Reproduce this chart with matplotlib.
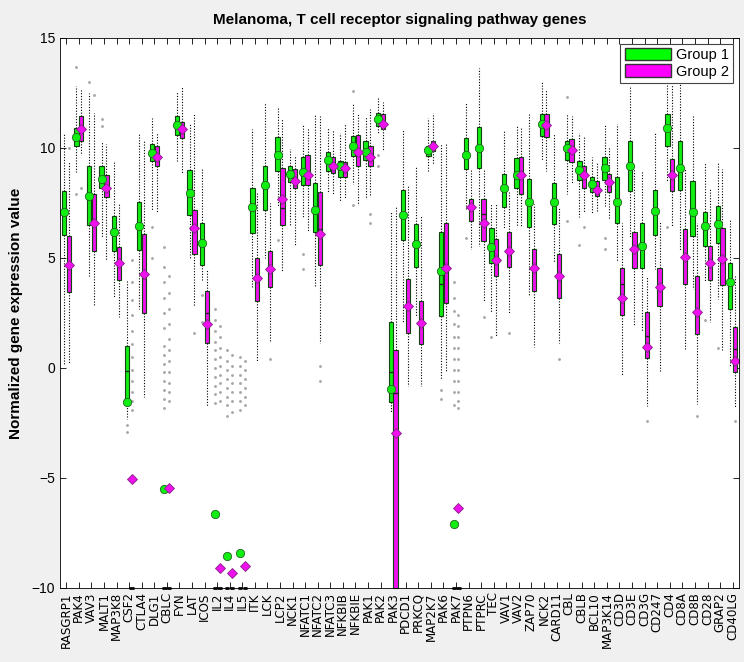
import numpy as np
import matplotlib
matplotlib.use("Agg")
import matplotlib.pyplot as plt
from matplotlib.patches import Patch

# gene names along the x axis
genes = ["RASGRP1", "PAK4", "VAV3", "MALT1", "MAP3K8", "CSF2", "CTLA4", "DLG1",
         "CBLC", "FYN", "LAT", "ICOS", "IL2", "IL4", "IL5", "ITK", "LCK", "LCP2",
         "NCK1", "NFATC1", "NFATC2", "NFATC3", "NFKBIB", "NFKBIE", "PAK1", "PAK2",
         "PAK3", "PDCD1", "PRKCQ", "MAP2K7", "PAK6", "PAK7", "PTPN6", "PTPRC",
         "TEC", "VAV1", "VAV2", "ZAP70", "NCK2", "CARD11", "CBL", "CBLB", "BCL10",
         "MAP3K14", "CD3D", "CD3E", "CD3G", "CD247", "CD4", "CD8A", "CD8B", "CD28",
         "GRAP2", "CD40LG"]

# Group 1 box statistics: whisker low, q1, median, q3, whisker high, mean
g1_lo = [0.2, 8.9, 4.2, 5.9, 3.2, -2.3, 2.7, 7.2, -10, 9.4, 4.95, 4.0, -10, -10, -10,
         3.7, 5.0, 7.35, 6.45, 6.8, 3.7, 7.95, 7.55, 8.35, 7.7, 10.7, -2.0, 2.1, 2.35,
         8.9, -0.5, -10, 7.2, 5.55, 2.5, 6.3, 6.4, 3.3, 9.4, 4.8, 7.9, 6.85, 7.0, 7.35,
         4.8, 5.95, 1.7, 4.5, 8.5, 5.3, 3.6, 3.95, 3.15, 0.05]
g1_q1 = [6.05, 10.1, 6.5, 8.2, 5.3, -1.55, 5.35, 9.4, -10, 10.6, 6.95, 4.7, -10, -10, -10,
         6.15, 7.2, 8.95, 8.45, 8.3, 6.2, 8.95, 8.7, 9.65, 9.45, 11.0, -1.55, 5.8, 4.6,
         9.65, 2.35, -10, 9.05, 9.1, 4.75, 7.3, 8.2, 6.4, 10.55, 6.55, 9.45, 8.55, 8.0, 8.55,
         6.6, 8.05, 4.55, 6.05, 10.1, 8.1, 6.0, 5.55, 5.7, 2.7]
g1_med = [7.1, 10.5, 7.8, 8.6, 6.2, -0.15, 6.45, 9.75, -10, 11.05, 7.95, 5.7, -10, -10, -10,
          7.3, 8.3, 9.7, 8.8, 8.9, 7.2, 9.45, 9.2, 10.1, 9.8, 11.3, -0.2, 6.95, 5.65,
          9.9, 3.8, -10, 9.7, 10.0, 5.5, 8.2, 8.75, 7.55, 11.1, 7.55, 10.0, 9.0, 8.35, 9.1,
          7.55, 9.2, 5.55, 7.15, 10.9, 9.1, 7.1, 6.45, 6.55, 3.9]
g1_q3 = [8.05, 10.9, 9.2, 9.2, 6.9, 1.0, 7.55, 10.2, -10, 11.45, 9.0, 6.6, -10, -10, -10,
         8.2, 9.2, 10.5, 9.2, 9.6, 8.4, 9.8, 9.4, 10.55, 10.3, 11.6, 2.1, 8.1, 6.55,
         10.1, 6.2, -10, 10.45, 10.95, 6.35, 8.8, 9.55, 8.6, 11.55, 8.4, 10.3, 9.4, 8.7, 9.6,
         8.7, 10.3, 6.6, 8.1, 11.55, 10.3, 8.5, 7.1, 7.35, 4.75]
g1_hi = [10.7, 12.8, 12.5, 10.3, 9.35, 4.0, 10.65, 11.35, -10, 12.55, 11.1, 9.05, -10, -10, -10,
         10.85, 12.1, 11.85, 9.95, 11.1, 11.55, 10.95, 10.7, 12.0, 11.45, 12.3, 7.15, 10.85, 9.2,
         11.35, 10.2, -10, 12.1, 13.65, 7.5, 10.8, 11.0, 11.6, 13.0, 10.7, 11.55, 10.7, 9.6, 11.1,
         11.1, 12.75, 8.95, 10.7, 13.45, 12.9, 11.45, 9.35, 9.35, 6.75]
g1_mean = [7.1, 10.5, 7.8, 8.6, 6.2, -1.55, 6.45, 9.75, -5.5, 11.05, 7.95, 5.7, -6.65, -8.55, -8.4,
           7.3, 8.3, 9.7, 8.8, 8.9, 7.2, 9.45, 9.2, 10.1, 9.8, 11.3, -0.95, 6.95, 5.65,
           9.9, 4.4, -7.1, 9.7, 10.0, 5.5, 8.2, 8.75, 7.55, 11.1, 7.55, 10.0, 9.0, 8.35, 9.1,
           7.55, 9.2, 5.55, 7.15, 10.9, 9.1, 7.1, 6.45, 6.55, 3.9]

# Group 2 box statistics
g2_lo = [0.2, 9.7, 2.8, 4.9, 2.3, -10, -1.3, 7.1, -10, 8.8, 2.8, -1.75, -10, -10, -10,
         0.3, 1.2, 4.35, 5.6, 6.2, 1.15, 7.85, 7.7, 7.4, 7.8, 9.85, -10, -0.8, -0.8,
         9.25, -0.2, -10, 5.4, 3.0, 1.45, 2.45, 6.45, 0.95, 8.95, 1.15, 8.4, 7.1, 7.15, 6.75,
         -0.3, 1.9, -1.75, -0.15, 6.45, 0.85, -1.65, 2.1, 0.75, -1.8]
g2_q1 = [3.45, 10.3, 5.3, 7.75, 4.0, -10, 2.5, 9.2, -10, 10.45, 5.2, 1.15, -10, -10, -10,
         3.05, 3.7, 6.5, 8.2, 8.3, 4.7, 8.85, 8.7, 9.2, 9.2, 10.85, -10, 1.6, 1.1,
         9.85, 2.95, -10, 6.7, 5.75, 4.2, 4.6, 7.9, 3.5, 10.5, 3.2, 9.35, 8.2, 7.8, 8.0,
         2.4, 4.55, 0.45, 2.8, 8.05, 3.8, 1.55, 4.0, 3.75, -0.2]
g2_med = [4.7, 10.85, 6.6, 8.2, 4.75, -10, 4.1, 9.6, -10, 10.85, 6.35, 2.5, -10, -10, -10,
          4.1, 4.5, 7.25, 8.5, 8.75, 6.3, 9.2, 9.1, 9.8, 9.6, 11.1, -1.15, 2.8, 2.05,
          10.1, 4.55, -10, 7.3, 7.0, 4.9, 5.3, 8.75, 4.55, 11.05, 4.2, 9.9, 8.75, 8.1, 8.45,
          3.8, 5.4, 1.45, 3.7, 8.75, 5.05, 2.55, 4.75, 4.95, 0.85]
g2_q3 = [6.0, 11.45, 7.9, 8.75, 5.5, -10, 6.1, 10.1, -10, 11.2, 7.2, 3.5, -10, -10, -10,
         5.0, 5.3, 9.1, 9.05, 9.7, 8.0, 9.6, 9.35, 10.6, 10.1, 11.55, 0.8, 4.05, 3.05,
         10.3, 6.6, -10, 7.7, 7.7, 5.85, 6.2, 9.6, 5.4, 11.55, 5.2, 10.4, 9.2, 8.5, 8.8,
         4.55, 6.2, 2.55, 4.55, 9.5, 6.3, 4.2, 5.55, 6.35, 1.85]
g2_hi = [9.4, 12.7, 11.6, 10.2, 7.5, -10, 10.3, 10.7, -10, 12.75, 11.6, 4.5, -10, -10, -10,
         8.0, 7.5, 11.3, 9.7, 10.9, 11.45, 10.8, 11.1, 11.6, 11.75, 12.1, 7.35, 8.3, 6.9,
         11.6, 10.2, -10, 9.05, 9.05, 7.5, 8.0, 10.95, 7.45, 12.7, 7.3, 11.45, 10.55, 9.35, 10.05,
         6.6, 9.05, 4.2, 6.7, 12.9, 9.05, 6.6, 8.15, 9.05, 4.2]
g2_mean = [4.7, 10.85, 6.6, 8.2, 4.75, -5.05, 4.25, 9.6, -5.45, 10.85, 6.35, 2.0, -9.1, -9.3, -9.0,
           4.1, 4.5, 7.7, 8.5, 8.75, 6.1, 9.2, 9.1, 9.8, 9.6, 11.1, -2.95, 2.8, 2.05,
           10.1, 4.55, -6.35, 7.3, 6.6, 4.9, 5.3, 8.75, 4.55, 11.05, 4.2, 9.9, 8.75, 8.1, 8.45,
           3.2, 5.4, 0.95, 3.7, 8.75, 5.05, 2.55, 4.75, 4.95, 0.3]

# outlying samples (gene -> values)
g1_out = {
    "PAK4": [13.7, 7.9], "VAV3": [13.0], "MALT1": [11.0, 11.3], "CSF2": [-2.6, -2.9],
    "CBLC": [5.5, 4.6, 3.9, 3.2, 2.5, 1.8, 1.0, 0.6, 0.2, -0.2, -0.6, -1.0, -1.4, -1.8],
    "DLG1": [6.4, 5.0], "ICOS": [3.3, 2.1],
    "IL2": [2.7, 2.2, 1.7, 1.2, 0.8, 0.4, 0.0, -0.4, -0.8, -1.2, -1.6],
    "IL4": [0.8, 0.3, -0.1, -0.5, -0.9, -1.3, -1.7, -2.2],
    "IL5": [0.5, 0.1, -0.3, -0.7, -1.1, -1.5, -1.9],
    "LCP2": [5.8], "NFATC1": [5.2, 4.5], "PAK2": [9.7, 9.2], "NFKBIE": [12.6, 7.4],
    "PAK6": [-1.0, -1.4], "PAK7": [3.9, 3.2, 2.6, 2.0, 1.4, 0.9, 0.4, -0.1, -0.6, -1.1, -1.7],
    "PTPN6": [5.9], "TEC": [1.4], "CBL": [6.7, 12.3], "CBLB": [5.6],
    "MAP3K14": [5.9, 5.4], "CD4": [6.4], "CD28": [2.2], "GRAP2": [0.9],
}
g2_out = {
    "RASGRP1": [10.0], "PAK4": [8.2], "VAV3": [12.4],
    "CSF2": [4.9, 3.9, 3.1, 2.4, 1.7, 1.1, 0.5, -0.1, -0.6, -1.1, -1.5, -1.9],
    "CBLC": [4.2, 3.4, 2.7, 2.0, 1.3, 0.8, 0.3, -0.2, -0.7, -1.1, -1.5],
    "IL2": [1.9, 1.4, 0.9, 0.5, 0.1, -0.3, -0.7, -1.1, -1.5],
    "IL4": [0.6, 0.1, -0.3, -0.7, -1.1, -1.5, -2.0],
    "IL5": [0.3, -0.1, -0.5, -0.9, -1.3, -1.7],
    "LAT": [1.6], "LCK": [0.4], "NFATC2": [0.1, -0.6], "PAK1": [7.0, 6.6],
    "PTPRC": [2.3], "PAK7": [2.4, 1.9, 1.4, 0.9, 0.4, -0.1, -0.6, -1.1, -1.5, -1.8],
    "VAV1": [1.6], "CARD11": [0.4], "CBLB": [6.4], "CD3G": [-2.4], "CD8B": [-2.2],
    "CD40LG": [-2.4],
}

green = "#11ee11"
magenta = "#ee11ee"


def make_stats(lo, q1, med, q3, hi, mean, out):
    stats = []
    for i, g in enumerate(genes):
        stats.append(dict(whislo=lo[i], q1=q1[i], med=med[i], q3=q3[i],
                          whishi=hi[i], mean=mean[i],
                          fliers=np.array(out.get(g, []))))
    return stats


pos = np.arange(1, len(genes) + 1)

fig = plt.figure(figsize=(7.44, 6.62), dpi=100, facecolor="#f0f0f0")
ax = fig.add_axes([0.0806, 0.1118, 0.9126, 0.8308])

groups = [
    (make_stats(g1_lo, g1_q1, g1_med, g1_q3, g1_hi, g1_mean, g1_out), -0.19, green, "o", "#226622"),
    (make_stats(g2_lo, g2_q1, g2_med, g2_q3, g2_hi, g2_mean, g2_out), 0.19, magenta, "D", "#882288"),
]
for stats, off, col, mk, edge in groups:
    parts = ax.bxp(stats, positions=pos + off, widths=0.34, patch_artist=True,
                   showmeans=True, showcaps=False,
                   boxprops=dict(facecolor=col, edgecolor="#114411", linewidth=0.8),
                   medianprops=dict(color="#222222", linewidth=1.0),
                   whiskerprops=dict(color="black", linewidth=0.8, linestyle=(0, (1, 1.5))),
                   flierprops=dict(marker=".", markersize=2.2, markerfacecolor="#aaaaaa",
                                   markeredgecolor="#aaaaaa", linestyle="none"),
                   meanprops=dict(marker=mk, markersize=6 if mk == "o" else 5.5,
                                  markerfacecolor=col, markeredgecolor=edge,
                                  markeredgewidth=0.6))
    # boxes collapsed at the floor (-10) show as short black bars on the axis
    for art in parts["boxes"] + parts["medians"]:
        art.set_clip_on(False)
    for i, b in enumerate(parts["boxes"]):
        if stats[i]["q3"] == stats[i]["q1"]:
            b.set_edgecolor("black")
            b.set_linewidth(2.0)

ax.set_xlim(0.5, len(genes) + 0.5)
ax.set_ylim(-10, 15)
ax.set_yticks([-10, -5, 0, 5, 10, 15])
ax.set_xticks(pos)
ax.set_xticklabels(genes, rotation=90, fontsize=8.6, family="DejaVu Sans")
for lab in ax.get_yticklabels():
    lab.set_family(["Liberation Sans", "DejaVu Sans"])
    lab.set_fontsize(10)
ax.tick_params(direction="in", top=True, right=True, length=4, width=0.6)
ax.tick_params(axis="x", pad=3)
for sp in ax.spines.values():
    sp.set_linewidth(0.6)

ax.set_ylabel("Normalized gene expression value", fontsize=11, fontweight="bold",
              family=["Liberation Sans", "DejaVu Sans"], labelpad=6)
ax.set_title("Melanoma, T cell receptor signaling pathway genes", fontsize=11,
             fontweight="bold", family=["Liberation Sans Narrow", "Liberation Sans", "DejaVu Sans"],
             pad=10)

handles = [Patch(facecolor="#00ff00", edgecolor="#333333", label="Group 1"),
           Patch(facecolor="#ff00ff", edgecolor="#333333", label="Group 2")]
leg = ax.legend(handles=handles, loc="upper right", fancybox=False, framealpha=1,
                edgecolor="#444444", borderpad=0.3, handlelength=3.2, handleheight=0.9,
                labelspacing=0.15, handletextpad=0.3, borderaxespad=0.4,
                prop=dict(family=["Liberation Sans", "DejaVu Sans"], size=10.5))
leg.get_frame().set_linewidth(0.8)

fig.savefig("out.png", dpi=100, facecolor=fig.get_facecolor())
